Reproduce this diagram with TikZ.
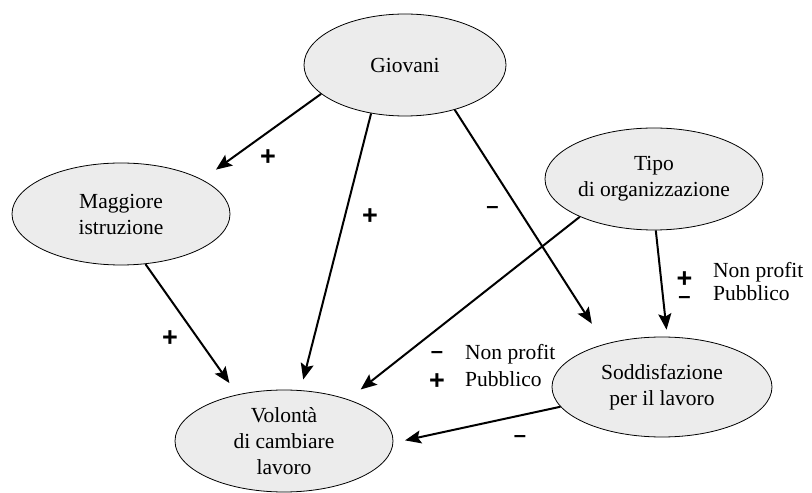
\documentclass[tikz,border=0pt]{standalone}
\usepackage{fontspec}
\setmainfont{Liberation Serif}
\newfontfamily\signfont{Liberation Sans}
\usetikzlibrary{shapes.geometric,arrows.meta}
\definecolor{ellfill}{HTML}{ECECEC}
\begin{document}
\begin{tikzpicture}[x=1pt,y=1pt,
  ell/.style={ellipse,draw=black,line width=0.8pt,fill=ellfill,inner sep=0pt,align=center,font=\fontsize{21.5}{26}\selectfont},
  conn/.style={line width=2pt,-{Stealth[length=16pt,width=13pt,inset=3pt]}},
  plussign/.style={font=\signfont\bfseries\fontsize{27}{27}\selectfont,inner sep=0pt,anchor=base,text height=0.6em,text depth=0pt},
  minussign/.style={font=\signfont\bfseries\fontsize{22}{22}\selectfont,inner sep=0pt,anchor=base,text height=0.4em,text depth=0pt},
  signpair/.style={font=\signfont\bfseries\fontsize{27}{16}\selectfont,inner sep=0pt,align=center},
  lab/.style={font=\fontsize{21.5}{26}\selectfont,inner sep=0pt,anchor=base west}]
\useasboundingbox (0,0) rectangle (812,493);

\node[ell,minimum width=202pt,minimum height=102pt] (gio) at (405,428) {Giovani};
\node[ell,minimum width=218pt,minimum height=102pt] (tipo) at (654,314) {Tipo\\di organizzazione};
\node[ell,minimum width=218pt,minimum height=102pt] (mag) at (121,279) {Maggiore\\istruzione};
\node[ell,minimum width=220pt,minimum height=100pt] (sod) at (662,106) {Soddisfazione\\per il lavoro};
\node[ell,minimum width=218pt,minimum height=102pt] (vol) at (284,52) {Volontà\\di cambiare\\lavoro};

\draw[conn,shorten >=17pt] (gio.199) -- (mag.23);
\draw[conn,shorten >=11pt] (gio.235.5) -- (vol.72.7);
\draw[conn,shorten >=24pt] (gio.318) -- (sod.143.5);
\draw[conn,shorten >=16pt] (tipo.207.8) -- (vol.33.9);
\draw[conn,shorten >=7pt] (tipo.272) -- (sod.84);
\draw[conn,shorten >=14pt] (mag.296.6) -- (vol.135);
\draw[conn,shorten >=12pt] (sod.191.9) -- (vol.359);

\node[plussign] (s1) at (268,327.4) {+};
\node[plussign] (s2) at (370,268.4) {+};
\node[minussign] (s3) at (492.5,279) {–};
\node[plussign] (s4) at (170,146.4) {+};
\node[signpair] (s56) at (684.5,205) {+\\{\fontsize{22}{16}\selectfont –}};
\node[minussign] (s7) at (437,134) {–};
\node[plussign] (s8) at (437,103.4) {+};
\node[minussign] (s9) at (520,50) {–};

\node[lab] (l1) at (713,215) {Non profit};
\node[lab] (l2) at (713,192) {Pubblico};
\node[lab] (l3) at (465,133) {Non profit};
\node[lab] (l4) at (465,106) {Pubblico};
\end{tikzpicture}
\end{document}
